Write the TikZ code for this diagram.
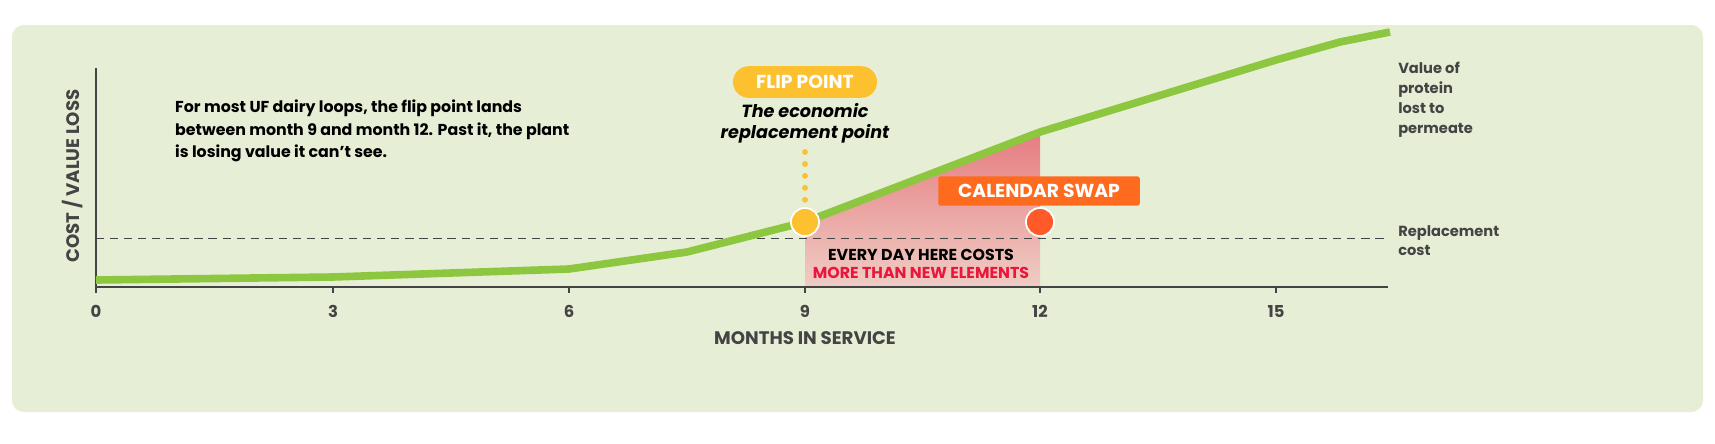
\documentclass[tikz,border=0pt]{standalone}
\usepackage{fontspec}
\setmainfont{Poppins}
\usetikzlibrary{shapes.misc}
\definecolor{bg}{HTML}{E6EFD6}
\definecolor{lime}{HTML}{8DC63F}
\definecolor{flip}{HTML}{FDC02F}
\definecolor{swap}{HTML}{FF6B1E}
\definecolor{dot2}{HTML}{FF5A28}
\definecolor{axis}{HTML}{444444}
\definecolor{hot}{HTML}{E8173B}
\definecolor{shtop}{HTML}{E67C80}
\definecolor{shbot}{HTML}{EFCDC4}
\begin{document}
\begin{tikzpicture}[x=0.03cm,y=-0.03cm,
  lbl/.style={font=\fontsize{15.5}{17}\selectfont\bfseries,text=axis},
  tick/.style={font=\fontsize{14}{16}\selectfont\bfseries,text=axis},
  side/.style={font=\fontsize{12.5}{17}\selectfont\bfseries,text=axis,align=left,anchor=north west,inner sep=0pt},
  pill/.style={font=\fontsize{16}{18}\selectfont\bfseries,text=white,inner sep=0pt}]
\useasboundingbox (0,0) rectangle (1715,443);
\fill[white] (0,0) rectangle (1715,443);
\fill[bg,rounded corners=10] (12,25) rectangle (1703,412);
% shaded region
\shade[top color=shtop,bottom color=shbot] (805,222) -- (1040,132) -- (1040,287) -- (805,287) -- cycle;
% axes
\draw[axis,line width=1pt] (96,68) -- (96,287) -- (1388,287);
\foreach \x/\l in {96/0,333/3,569/6,805/9,1040/12,1276/15}{
  \draw[axis,line width=1pt] (\x,287) -- (\x,293);
  \node[tick] (t\l) at (\x,311) {\l};}
\draw[axis,line width=0.8pt,dash pattern=on 7pt off 5pt] (96,238) -- (1388,238);
% curve
\draw[lime,line width=6.5pt,line join=round] (96,280) -- (333,277) -- (569,269) -- (687,252) -- (805,222) -- (1040,132) -- (1276,60) -- (1340,42) -- (1390,32);
% flip point
\coordinate (fd) at (805,152);
\node[circle,fill=flip,draw=white,line width=1.5pt,minimum size=24pt,inner sep=0pt] (fp) at (805,222) {};
\draw[flip,line width=5pt,line cap=round,dash pattern=on 0pt off 10.2pt] (fd) -- (fp.north);
\node[pill,fill=flip,rounded rectangle,minimum width=123pt,minimum height=27pt] (flipl) at (805,82) {FLIP POINT};
\node[font=\fontsize{15}{18}\selectfont\bfseries\itshape,align=center] (econ) at (805,123) {The economic\\replacement point};
% calendar swap
\node[pill,fill=swap,rounded corners=2pt,minimum width=172pt,minimum height=25pt] (cal) at (1039,191) {CALENDAR SWAP};
\node[circle,fill=dot2,draw=white,line width=1.5pt,minimum size=24pt,inner sep=0pt] (cp) at (1040,222) {};
\node[font=\fontsize{13.5}{16}\selectfont\bfseries,align=center] (every) at (921,264) {EVERY DAY HERE COSTS\\\textcolor{hot}{MORE THAN NEW ELEMENTS}};
% texts
\node[font=\fontsize{13.5}{19}\selectfont\bfseries,align=left,anchor=north west,inner sep=0pt] (note) at (175,100) {For most UF dairy loops, the flip point lands\\between month 9 and month 12. Past it, the plant\\is losing value it can't see.};
\node[side] (val) at (1398,62) {Value of\\protein\\lost to\\permeate};
\node[side] (rep) at (1398,225) {Replacement\\cost};
\node[lbl,rotate=90] (ylab) at (73,176) {COST / VALUE LOSS};
\node[lbl] (xlab) at (805,338) {MONTHS IN SERVICE};
\end{tikzpicture}
\end{document}
